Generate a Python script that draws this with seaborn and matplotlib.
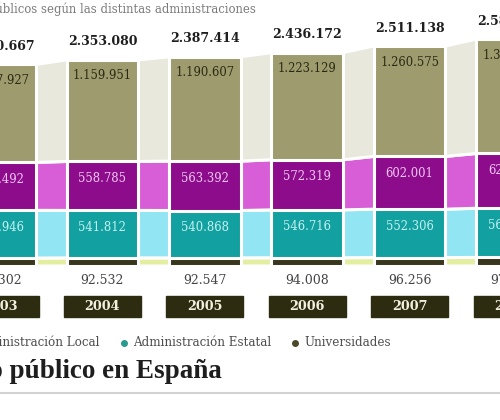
import matplotlib
matplotlib.use("Agg")
import matplotlib.pyplot as plt
import numpy as np
import pandas as pd
import seaborn as sns

sns.set_style("white")
plt.rcParams['font.family'] = ['DejaVu Serif', 'DejaVu Sans']

# datos: empleados publicos por administracion (2008 parcialmente visible, estimado)
years = ["2003", "2004", "2005", "2006", "2007", "2008"]
universidades = [90302, 92532, 92547, 94008, 96256, 97713]
estatal = [544946, 541812, 540868, 546716, 552306, 561304]
local = [547492, 558785, 563392, 572319, 602001, 625380]
ccaa = [1117927, 1159951, 1190607, 1223129, 1260575, 1304837]

legend_names = ["Comunidades Autónomas", "Administración Local",
                "Administración Estatal", "Universidades"]

# colores
c_ccaa, c_local, c_est, c_univ = "#9e9c6e", "#8c0c8c", "#12a0a0", "#38361c"
f_ccaa, f_local, f_est, f_univ = "#e8e8dd", "#d85ed8", "#92e6f4", "#e4eea0"

df = pd.DataFrame({"year": years, "univ": universidades, "est": estatal,
                   "local": local, "ccaa": ccaa})
df["c1"] = df["univ"]
df["c2"] = df["c1"] + df["est"]
df["c3"] = df["c2"] + df["local"]
df["total"] = df["c3"] + df["ccaa"]

W, H = 500, 420
base_px = 266            # fila de la base de las barras
S = 0.0876 / 1000        # px por persona
step_px = 102.4          # distancia entre barras
def dy(p):               # px -> unidades de datos
    return p / S

def fmt(v):
    return f"{v:,}".replace(",", ".")

fig = plt.figure(figsize=(W / 100, H / 100), dpi=100)
ax = fig.add_axes([0, 0, 1, 1])

bw = 0.70
n = len(years)
xs = np.arange(n)
xe = np.column_stack([xs - bw / 2, xs + bw / 2]).ravel()

# flujos entre barras
layers = [(np.zeros(n), df["c1"], f_univ), (df["c1"], df["c2"], f_est),
          (df["c2"], df["c3"], f_local), (df["c3"], df["total"], f_ccaa)]
for lo, hi, col in layers:
    lo = np.repeat(np.asarray(lo), 2)
    hi = np.repeat(np.asarray(hi), 2)
    ax.fill_between(xe, lo, hi, color=col, edgecolor="white", linewidth=2.2, zorder=1)

# barras apiladas (acumuladas, de arriba abajo)
for col_name, col in [("total", c_ccaa), ("c3", c_local), ("c2", c_est), ("c1", c_univ)]:
    sns.barplot(data=df, x="year", y=col_name, color=col, saturation=1, width=bw,
                edgecolor="white", linewidth=2.2, ax=ax, zorder=2)

for i in range(n):
    r = df.iloc[i]
    ax.text(i, r["total"] + dy(18), fmt(int(r["total"])), ha="center", va="center",
            fontsize=9, fontweight="bold", color="#1e1e1e")
    ax.text(i, r["total"] - dy(16), fmt(int(r["ccaa"])), ha="center", va="center",
            fontsize=8.4, color="#2a2a14")
    ax.text(i, r["c3"] - dy(17), fmt(int(r["local"])), ha="center", va="center",
            fontsize=8.4, color="#f2c6f2")
    ax.text(i, r["c2"] - dy(17), fmt(int(r["est"])), ha="center", va="center",
            fontsize=8.4, color="#c4f2f2")
    ax.text(i, -dy(15), fmt(int(r["univ"])), ha="center", va="center",
            fontsize=9, color="#444444")
    bx = 77 / step_px
    ax.add_patch(plt.Rectangle((i - bx / 2, -dy(51)), bx, dy(21), color="#2e2c10",
                               zorder=3, clip_on=False))
    ax.text(i, -dy(40.5), years[i], ha="center", va="center", fontsize=9.2,
            fontweight="bold", color="#f4f0e0", zorder=4)

ax.set_xlim(-0.0, W / step_px)
ax.set_ylim(-dy(H - base_px), dy(base_px))
ax.axis("off")

def fx(p):
    return p / W
def fy(p):
    return 1 - p / H

# subtitulo recortado arriba
fig.text(fx(256), fy(9), "Empleados públicos según las distintas administraciones",
         ha="right", va="center", fontsize=8.4, color="#7a7a7a")

# leyenda
leg_cols = [c_ccaa, c_local, "#2a9a8c", "#4a4a2a"]
leg_x = [-230, -38, 124, 295]
for name, col, x in zip(legend_names, leg_cols, leg_x):
    ax.scatter([fx(x)], [fy(343)], s=16, color=col, transform=fig.transFigure,
               clip_on=False, zorder=5)
    fig.text(fx(x + 9), fy(343), name, ha="left", va="center", fontsize=8.6,
             color="#4e4e4e")

# titulo
fig.text(fx(222), fy(371), "Evolución del empleo público en España", ha="right",
         va="center", fontsize=19.5, fontweight="bold", color="#1e1e1e",
         family=["Liberation Serif", "DejaVu Serif"])
ax.plot([0, 1], [fy(393), fy(393)], color="#d2d2d2", linewidth=1.5,
        transform=fig.transFigure, clip_on=False)

fig.savefig("out.png", dpi=100, facecolor="white")
